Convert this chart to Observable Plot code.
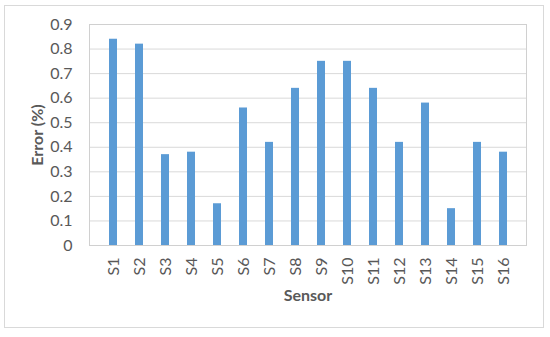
<!DOCTYPE html>
<html>
<head>
<meta charset="utf-8">
<script src="https://cdn.jsdelivr.net/npm/d3@7"></script>
<script src="https://cdn.jsdelivr.net/npm/@observablehq/plot@0.6"></script>
<style>
  html, body { margin: 0; padding: 0; background: #fff; }
  #wrap { position: relative; width: 550px; height: 337px; }
  #border { position: absolute; left: 4px; top: 5px; width: 538px; height: 321px; border: 1px solid #d9d9d9; pointer-events: none; }
</style>
</head>
<body>
<div id="wrap"><div id="border"></div></div>
<script>
const sensors = ["S1","S2","S3","S4","S5","S6","S7","S8","S9","S10","S11","S12","S13","S14","S15","S16"];
const errors = [0.84, 0.82, 0.37, 0.38, 0.17, 0.56, 0.42, 0.64, 0.75, 0.75, 0.64, 0.42, 0.58, 0.15, 0.42, 0.38];
const yTicks = [0, 0.1, 0.2, 0.3, 0.4, 0.5, 0.6, 0.7, 0.8, 0.9];
const xTitle = "Sensor";
const yTitle = "Error (%)";

const data = sensors.map((s, i) => ({sensor: s, error: errors[i]}));
const font = "Lato, 'Liberation Sans', sans-serif";

const chart = Plot.plot({
  width: 550,
  height: 337,
  marginLeft: 89,
  marginRight: 24,
  marginTop: 24,
  marginBottom: 92,
  style: {fontFamily: font, fontSize: "16px", color: "#595959", background: "transparent"},
  x: {domain: sensors, padding: 0.71, label: null},
  y: {domain: [0, 0.9], label: null},
  marks: [
    Plot.gridY(yTicks, {stroke: "#d9d9d9", strokeOpacity: 1}),
    Plot.frame({stroke: "#d0d0d0"}),
    Plot.barY(data, {x: "sensor", y: "error", fill: "#5b9bd5"}),
    Plot.axisY(yTicks, {tickSize: 0, tickPadding: 17, tickFormat: d => String(d), label: null, fontSize: 16, fill: "#595959"}),
    Plot.axisX({tickSize: 0, tickPadding: 12, tickRotate: -90, label: null, fontSize: 16, fill: "#595959"}),
    Plot.text([xTitle], {frameAnchor: "bottom", dy: 55, fontWeight: "bold", fontSize: 16, fill: "#595959"}),
    Plot.text([yTitle], {frameAnchor: "left", dx: -52, rotate: -90, textAnchor: "middle", fontWeight: "bold", fontSize: 16, fill: "#595959"})
  ]
});
document.getElementById("wrap").appendChild(chart);
chart.style.position = "absolute";
chart.style.left = "0";
chart.style.top = "0";
</script>
</body>
</html>
